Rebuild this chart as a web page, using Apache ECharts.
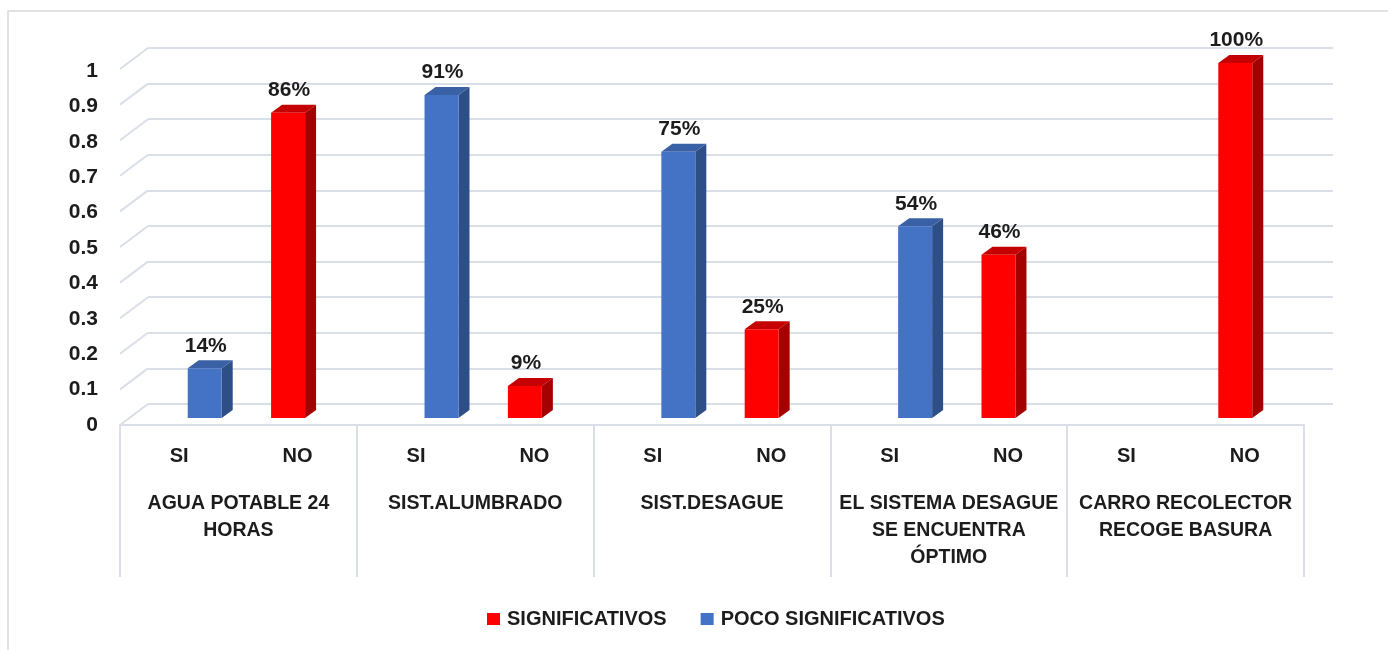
<!DOCTYPE html>
<html>
<head>
<meta charset="utf-8">
<script src="https://cdn.jsdelivr.net/npm/echarts@6/dist/echarts.min.js"></script>
<style>
html,body{margin:0;padding:0;background:#fff;}
#chart{width:1388px;height:650px;}
</style>
</head>
<body>
<div id="chart"></div>
<script>
// ---- data ----
const groups = ['AGUA POTABLE 24\nHORAS', 'SIST.ALUMBRADO', 'SIST.DESAGUE', 'EL SISTEMA DESAGUE\nSE ENCUENTRA\nÓPTIMO', 'CARRO RECOLECTOR\nRECOGE BASURA'];
const answers = ['SI', 'NO'];
const seriesNames = ['SIGNIFICATIVOS', 'POCO SIGNIFICATIVOS'];
const significativos =     [null, 0.86, null, 0.09, null, 0.25, null, 0.46, null, 1.00];
const pocoSignificativos = [0.14, null, 0.91, null, 0.75, null, 0.54, null, null, null];
const yTicks = [0, 0.1, 0.2, 0.3, 0.4, 0.5, 0.6, 0.7, 0.8, 0.9, 1];

// ---- build ----
const categories = [];
groups.forEach(() => answers.forEach(a => categories.push(a)));

const FONT = '"Liberation Sans", Arial, sans-serif';
const TXT = '#1c1c1c';
const GRIDC = '#dadee7';
const DEPTH = [11, -8];

const palettes = [
  { front: '#FF0000', side: '#A50000', top: '#C40000' },
  { front: '#4472C4', side: '#2E4E88', top: '#3A60A6' }
];

function toData(arr) {
  const out = [];
  arr.forEach((v, i) => { if (v !== null) out.push([i, v]); });
  return out;
}

function barRenderer(sIdx) {
  const pal = palettes[sIdx];
  return function (params, api) {
    const xi = api.value(0), v = api.value(1);
    const base = api.coord([xi, 0]);
    const top = api.coord([xi, v]);
    const bw = api.size([1, 0])[0];
    const off = (sIdx === 0 ? -1 : 1) * 0.148 * bw;
    const w = 0.287 * bw;
    const cx = base[0] + off;
    const x0 = cx - w / 2, x1 = cx + w / 2;
    const yt = top[1], yb = base[1];
    const dx = DEPTH[0], dy = DEPTH[1];
    return {
      type: 'group',
      children: [
        { type: 'polygon', shape: { points: [[x1, yt], [x1 + dx, yt + dy], [x1 + dx, yb + dy], [x1, yb]] }, style: { fill: pal.side } },
        { type: 'polygon', shape: { points: [[x0, yt], [x0 + dx, yt + dy], [x1 + dx, yt + dy], [x1, yt]] }, style: { fill: pal.top } },
        { type: 'rect', shape: { x: x0, y: yt, width: w, height: yb - yt }, style: { fill: pal.front } },
        { type: 'text', style: { x: cx + 1, y: yt - 12, text: Math.round(v * 100) + '%', fill: TXT, font: 'bold 21px ' + FONT, textAlign: 'center', textVerticalAlign: 'bottom' } }
      ]
    };
  };
}

const chart = echarts.init(document.getElementById('chart'), null, { renderer: 'canvas' });

const option = {
  backgroundColor: '#ffffff',
  animation: false,
  graphic: [
    { type: 'rect', shape: { x: 8, y: 11, width: 1420, height: 700 }, style: { fill: null, stroke: '#d9d9d9', lineWidth: 1.5 }, silent: true }
  ],
  legend: {
    left: 482, top: 604,
    itemWidth: 13, itemHeight: 12, itemGap: 34,
    textStyle: { fontFamily: FONT, fontWeight: 'bold', fontSize: 20, color: TXT, padding: [0, 0, 0, 2] },
    data: [{ name: seriesNames[0], icon: 'rect' }, { name: seriesNames[1], icon: 'rect' }]
  },
  grid: [
    { left: 148, right: 55, top: 48, bottom: 246 },   // back wall
    { left: 128, right: 76, top: 63, bottom: 232 },   // bar depth plane
    { left: 120, right: 84, top: 71, bottom: 225 }    // front plane
  ],
  xAxis: [
    { gridIndex: 0, type: 'category', data: categories, show: false },
    { gridIndex: 1, type: 'category', data: categories, show: false },
    { gridIndex: 2, type: 'category', data: categories, position: 'bottom',
      axisLine: { show: true, lineStyle: { color: GRIDC, width: 2 } },
      axisTick: { show: false },
      axisLabel: { interval: 0, margin: 19, fontFamily: FONT, fontWeight: 'bold', fontSize: 20, color: TXT, lineHeight: 24 } },
    { gridIndex: 2, type: 'category', data: groups, position: 'bottom',
      axisLine: { show: false },
      axisTick: { show: true, interval: 0, length: 152, lineStyle: { color: GRIDC, width: 2 } },
      axisLabel: { interval: 0, margin: 65, fontFamily: FONT, fontWeight: 'bold', fontSize: 19.5, color: TXT, lineHeight: 27, align: 'center' } }
  ],
  yAxis: [
    { gridIndex: 0, type: 'value', min: 0, max: 1, interval: 0.1,
      axisLine: { show: false }, axisTick: { show: false }, axisLabel: { show: false },
      splitLine: { show: true, lineStyle: { color: GRIDC, width: 2 } } },
    { gridIndex: 1, type: 'value', min: 0, max: 1, interval: 0.1, show: false, splitLine: { show: false } },
    { gridIndex: 2, type: 'value', min: 0, max: 1, interval: 0.1,
      axisLine: { show: false }, axisTick: { show: false }, splitLine: { show: false },
      axisLabel: { margin: 22, fontFamily: FONT, fontWeight: 'bold', fontSize: 21, color: TXT,
        formatter: v => String(Math.round(v * 10) / 10) } }
  ],
  series: [
    { // side-wall diagonals of the 3D floor/wall grid
      type: 'custom', xAxisIndex: 0, yAxisIndex: 0, silent: true, z: 1,
      data: yTicks.map(v => [0, v]),
      encode: { x: 0, y: 1 },
      renderItem: function (params, api) {
        const p = api.coord([0, api.value(1)]);
        const left = params.coordSys.x;
        return { type: 'line', shape: { x1: left, y1: p[1], x2: left - 28, y2: p[1] + 21 }, style: { stroke: GRIDC, lineWidth: 2 } };
      }
    },
    { name: seriesNames[0], type: 'custom', xAxisIndex: 1, yAxisIndex: 1, z: 5,
      itemStyle: { color: palettes[0].front },
      data: toData(significativos), encode: { x: 0, y: 1 }, renderItem: barRenderer(0) },
    { name: seriesNames[1], type: 'custom', xAxisIndex: 1, yAxisIndex: 1, z: 5,
      itemStyle: { color: palettes[1].front },
      data: toData(pocoSignificativos), encode: { x: 0, y: 1 }, renderItem: barRenderer(1) }
  ]
};
chart.setOption(option);
</script>
</body>
</html>
